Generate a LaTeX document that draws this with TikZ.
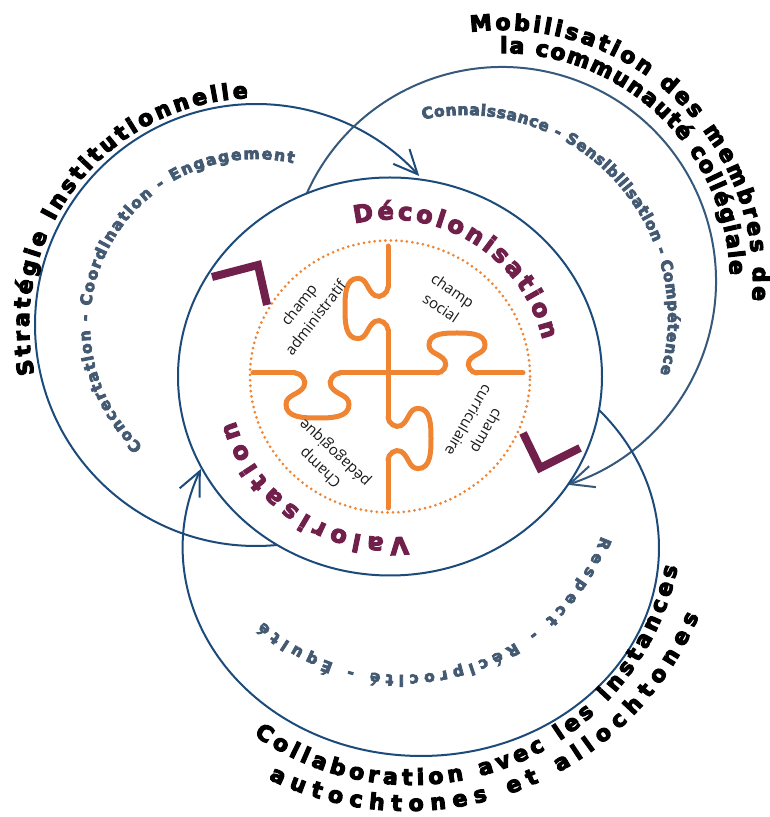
\documentclass[tikz,border=0pt]{standalone}
\usepackage{fontspec}
\setmainfont{Open Sans}
\newfontfamily\heavyfont{DejaVu Sans Bold}
\usetikzlibrary{arrows.meta,decorations.text,shapes.geometric}
\definecolor{ringblue}{HTML}{1C4B7B}
\definecolor{ringslate}{HTML}{36587A}
\definecolor{themeslate}{HTML}{435A72}
\definecolor{plum}{HTML}{70204A}
\definecolor{puzzle}{HTML}{EF8532}
\newcommand\ringlabel{\heavyfont\fontsize{22}{26}\selectfont\special{pdf:literal direct 2 Tr 1.1 w}}
\newcommand\ringtheme{\heavyfont\fontsize{15.5}{18}\selectfont\special{pdf:literal direct 2 Tr 0.8 w}}
\newcommand\keyword{\heavyfont\fontsize{24}{28}\selectfont\special{pdf:literal direct 2 Tr 1.1 w}}

\begin{document}
\begin{tikzpicture}[x=1pt, y=1pt,
    ring/.style={draw=ringblue, line width=2pt, -{Straight Barb[length=24pt, width=22pt]}},
    puzzleline/.style={draw=puzzle, line width=5pt, line cap=round},
    chevron/.style={draw=plum, line width=8pt, line join=miter},
    champ/.style={align=center, inner sep=0pt, font=\fontsize{15}{21}\selectfont, text=black!90},
    knob/.pic={\draw[puzzleline] (0,0) to[out=0,in=-60] (0.2,0.3) to[out=120,in=-90] (-0.2,0.7) to[out=90,in=180] (0.5,1) to[out=0,in=90] (1.2,0.7) to[out=-90,in=60] (0.8,0.3) to[out=-120,in=180] (1,0);}]
    \useasboundingbox (0,0) rectangle (770,817);
    \fill[white] (0,0) rectangle (770,817);

    \coordinate (cstrat) at (256,492);
    \coordinate (cmobil) at (502,536);
    \coordinate (cbottom) at (421,269);
    \coordinate (cdecol) at (390,440.5);
    \coordinate (cconn) at (465,499);
    \coordinate (cresp) at (403,353);
    \coordinate (ccollab) at (411,304);
    \coordinate (cauto) at (407,322);

    \draw[ring] (cstrat) ++(275.5:221pt) arc[start angle=275.5, end angle=42.4, radius=221pt];
    \draw[ring, draw=ringslate] (cmobil) ++(155.9:214pt) arc[start angle=155.9, end angle=-72.2, radius=214pt];
    \draw[ring] (cbottom) ++(41.6:238pt and 208pt) arc[start angle=41.6, end angle=-202.3, x radius=238pt, y radius=208pt];

    \node (decol) [ellipse, draw=ringblue, line width=2pt, minimum width=424pt, minimum height=398pt, inner sep=0pt] at (cdecol) {};
    \draw[draw=puzzle, line width=3pt, line cap=round, dash pattern=on 0pt off 5.4pt] (cdecol) ellipse[x radius=140pt, y radius=136pt];

    \draw[puzzleline] (388,571) -- (388,530);
    \draw[puzzleline] (388,487) -- (388,400);
    \draw[puzzleline] (388,357) -- (388,309);
    \draw[puzzleline] (253,444) -- (295,444);
    \draw[puzzleline] (340,444) -- (437,444);
    \draw[puzzleline] (477,444) -- (523,444);
    \pic[rotate=90, scale=43] at (388,487) {knob};
    \pic[rotate=-90, scale=43] at (388,400) {knob};
    \pic[rotate=180, scale=45] at (340,444) {knob};
    \pic[scale=40] at (437,444) {knob};

    \draw[chevron] (212,540) -- (258,552) -- (267,512);
    \draw[chevron] (523,384) -- (540,349) -- (580,369);

    \node (admin) [champ, rotate=52] at (307,506) {champ\\administratif};
    \node (social) [champ, rotate=-34] at (447,518) {champ\\social};
    \node (curric) [champ, rotate=-120] at (478,391) {champ\\curriculaire};
    \node (pedago) [champ, rotate=137] at (328,357) {Champ\\pédagogique};

    \path[decorate, decoration={text along path, text align={fit to path}, text color=black, text={|\ringlabel|Stratégie Institutionnelle}}] (cstrat) ++(192.5:227pt) arc[start angle=192.5, end angle=92, radius=227pt];
    \path[decorate, decoration={text along path, text align={fit to path}, text color=themeslate, text={|\ringtheme|Concertation - Coordination - Engagement}}] (cstrat) ++(227:166pt) arc[start angle=227, end angle=77, radius=166pt];
    \path[decorate, decoration={text along path, text align={fit to path}, text color=black, text={|\ringlabel|Mobilisation des membres de}}] (cmobil) ++(97.2:251pt) arc[start angle=97.2, end angle=-4.5, radius=251pt];
    \path[decorate, decoration={text along path, text align={fit to path}, text color=black, text={|\ringlabel|la communauté collégiale}}] (cmobil) ++(90.5:228pt) arc[start angle=90.5, end angle=1.5, radius=228pt];
    \path[decorate, decoration={text along path, text align={fit to path}, text color=themeslate, text={|\ringtheme|Connaissance - Sensibilisation - Compétence}}] (cconn) ++(102:203pt) arc[start angle=102, end angle=-16, radius=203pt];
    \path[decorate, decoration={text along path, text align={fit to path}, text color=plum, text={|\keyword|Décolonisation}}] (cdecol) ++(103:157pt) arc[start angle=103, end angle=13.5, radius=157pt];
    \path[decorate, decoration={text along path, text align={fit to path}, text color=plum, text={|\keyword|Valorisation}}] (cdecol) ++(-83.5:161pt) arc[start angle=-83.5, end angle=-164, radius=161pt];
    \path[decorate, decoration={text along path, text align={fit to path}, text color=themeslate, text={|\ringtheme|Respect - Réciprocité - Équité}}] (cresp) ++(-20:211pt) arc[start angle=-20, end angle=-131.5, radius=211pt];
    \path[decorate, decoration={text along path, text align={fit to path}, text color=black, text={|\ringlabel|Collaboration avec les instances}}] (ccollab) ++(-125.3:272pt) arc[start angle=-125.3, end angle=-11.4, radius=272pt];
    \path[decorate, decoration={text along path, text align={fit to path}, text color=black, text={|\ringlabel|autochtones et allochtones}}] (cauto) ++(-116:316pt) arc[start angle=-116, end angle=-22.5, radius=316pt];
\end{tikzpicture}
\end{document}
